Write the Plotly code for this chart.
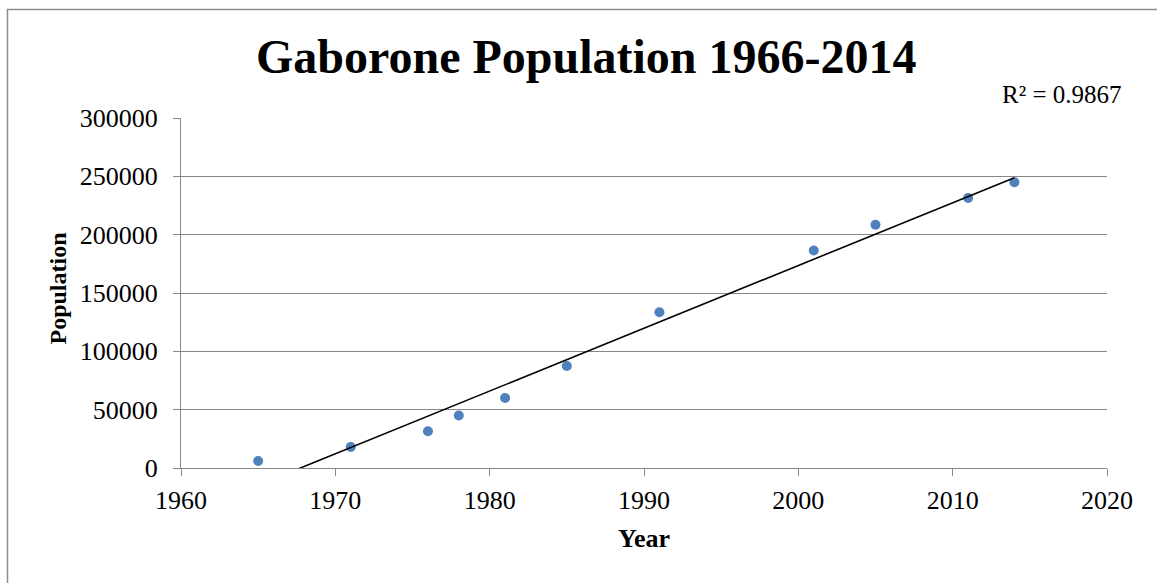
import numpy as np
import plotly.graph_objects as go

# Data
years = [1965, 1971, 1976, 1978, 1981, 1985, 1991, 2001, 2005, 2011, 2014]
population = [6000, 18000, 31500, 45000, 60000, 87500, 133500, 186500, 208500, 231500, 245000]
r2_label = "R² = 0.9867"
title_text = "Gaborone Population 1966-2014"
x_title = "Year"
y_title = "Population"

# Linear trendline (least squares) over the data range
slope, intercept = np.polyfit(years, population, 1)
trend_x = [min(years), max(years)]
trend_y = [slope * x + intercept for x in trend_x]

SERIF = "Liberation Serif, Times New Roman, serif"
GRID = "#878787"

fig = go.Figure()
fig.add_trace(go.Scatter(
    x=years, y=population, mode="markers",
    marker=dict(color="#4F81BD", size=10, line=dict(width=0)),
    showlegend=False, hoverinfo="x+y",
))
fig.add_trace(go.Scatter(
    x=trend_x, y=trend_y, mode="lines",
    line=dict(color="black", width=1.6),
    showlegend=False, hoverinfo="skip",
))

fig.update_layout(
    width=1157, height=583,
    margin=dict(l=181, r=50, t=118, b=115),
    paper_bgcolor="white", plot_bgcolor="white",
    font=dict(family=SERIF, size=26, color="black"),
    showlegend=False,
)

fig.update_xaxes(
    range=[1960, 2020], dtick=10, tick0=1960,
    showgrid=False, zeroline=False,
    showline=True, linecolor=GRID, linewidth=1.3,
    ticks="outside", ticklen=7, tickcolor=GRID, tickwidth=1.3,
    tickfont=dict(family=SERIF, size=26, color="black"),
    ticklabelstandoff=2,
)
fig.update_yaxes(
    range=[0, 300000], dtick=50000, tick0=0, tickformat="d",
    showgrid=True, gridcolor=GRID, gridwidth=1.3, zeroline=False,
    showline=True, linecolor=GRID, linewidth=1.3,
    ticks="outside", ticklen=7, tickcolor=GRID, tickwidth=1.3,
    tickfont=dict(family=SERIF, size=26, color="black"),
    ticklabelstandoff=10,
)

def px_x(p):
    return (p - 181) / 926.0

def px_y(p):
    return (468 - p) / 350.0

annotations = [
    dict(text=f"<b>{title_text}</b>", x=px_x(586), y=px_y(57),
         font=dict(family=SERIF, size=48, color="black")),
    dict(text=r2_label, x=px_x(1061.5), y=px_y(94),
         font=dict(family=SERIF, size=25, color="black")),
    dict(text=f"<b>{x_title}</b>", x=px_x(644), y=px_y(538),
         font=dict(family=SERIF, size=26, color="black")),
    dict(text=f"<b>{y_title}</b>", x=px_x(57), y=px_y(288.5), textangle=-90,
         font=dict(family=SERIF, size=24, color="black")),
]
for a in annotations:
    fig.add_annotation(xref="paper", yref="paper", showarrow=False,
                       xanchor="center", yanchor="middle", **a)

# Outer chart-area border (extends beyond the right/bottom of the view)
fig.add_shape(type="rect", xref="paper", yref="paper",
              x0=px_x(7.5), y0=-0.6, x1=1.2, y1=px_y(9.5),
              line=dict(color="#8c8c8c", width=1.5), layer="below")

fig.write_html(
    "out.html",
    config={"displayModeBar": False},
    post_script="document.body.style.margin='0';document.body.style.overflow='hidden';",
)
